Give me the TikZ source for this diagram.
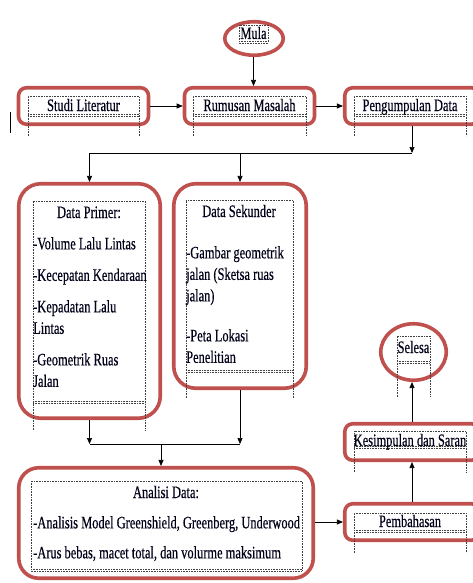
\documentclass[tikz,border=0pt]{standalone}
\usepackage{fontspec}
\setmainfont{Liberation Serif}[FakeStretch=0.71,FakeBold=0.4]
\usetikzlibrary{arrows.meta,shapes.geometric,positioning}
\definecolor{boxred}{RGB}{192,80,77}
\newcommand{\wordfont}{\fontsize{17.5}{21.5}\selectfont}

\begin{document}
\begin{tikzpicture}[
    x=1pt, y=-1pt,
    redbox/.style={draw=boxred, line width=3.6pt, rounded corners=8pt, inner sep=0pt, minimum width=134.5pt, minimum height=36.5pt},
    bigbox/.style={redbox, rounded corners=22pt},
    oval/.style={ellipse, draw=boxred, line width=3.6pt, inner sep=0pt},
    txt/.style={inner sep=0pt, font=\wordfont, text=black!90!blue, anchor=base},
    body/.style={inner sep=0pt, font=\wordfont, text=black!90!blue, align=left, anchor=north west},
    dotframe/.style={densely dotted, line width=0.6pt, black!75},
    arr/.style={-{Triangle[length=6pt,width=5pt]}, line width=0.7pt}
]
\clip (0,0) rectangle (473,583);
\fill[white] (0,0) rectangle (473,583);

% kotak-kotak
\node[oval, minimum width=58.5pt, minimum height=33.5pt] (mula) at (254,38.5) {};
\node[redbox, minimum width=130pt] (studi) at (83.5,106) {};
\node[redbox, minimum width=130pt] (rumusan) at (249.5,106) {};
\node[redbox] (peng) at (412,106) {};
\node[bigbox, minimum width=141.5pt, minimum height=234.5pt] (primer) at (89.5,301) {};
\node[bigbox, minimum width=132.5pt, minimum height=204.5pt] (sekunder) at (240,286) {};
\node[bigbox, rounded corners=20pt, minimum width=294.5pt, minimum height=110.5pt] (analisi) at (166,523) {};
\node[redbox] (pemb) at (412,522) {};
\node[redbox] (kes) at (412,442) {};
\node[oval, minimum width=65.5pt, minimum height=56.5pt] (selesa) at (413.5,352) {};

% bingkai teks
\draw[dotframe] (239,25) rectangle (268,43) (239,41) -- (268,41);
\foreach \xa/\xb in {28/139, 193/306, 354/466} {
  \draw[dotframe] (\xa,136) |- (\xb,96) -- (\xb,136);
  \draw[dotframe] (\xa,114) -- (\xb,114) (\xa,116) -- (\xb,116);
}
\draw[dotframe] (33,430) |- (145,201) -- (145,430);
\draw[dotframe] (33,401) -- (145,401) (33,403) -- (145,403);
\draw[dotframe] (186,398) |- (293,200) -- (293,398);
\draw[dotframe] (186,370) -- (293,370) (186,372) -- (293,372);
\draw[dotframe] (31,481) rectangle (302,571) (31,569) -- (302,569);
\draw[dotframe] (354,553) |- (466,513) -- (466,553);
\draw[dotframe] (354,530) -- (466,530) (354,532) -- (466,532);
\draw[dotframe] (354,472) |- (466,431) -- (466,472);
\draw[dotframe] (354,446) -- (466,446) (354,448) -- (466,448);
\draw[dotframe] (397,397) |- (430,336) -- (430,397);
\draw[dotframe] (397,361) -- (430,361) (397,363) -- (430,363);
\draw[line width=0.8pt] (10.5,112) -- (10.5,133);

% teks
\node[txt] (tmula) at (253.5,39) {Mula};
\node[txt] (tstudi) at (83.5,111) {Studi Literatur};
\node[txt] (trumusan) at (249.5,111) {Rumusan Masalah};
\node[txt] (tpeng) at (410,111) {Pengumpulan Data};
\node[txt] (tprimer) at (89,218) {Data Primer:};
\node[body] (bprimer) at (33,237) {-Volume Lalu Lintas\\[10pt]-Kecepatan Kendaraan\\[10pt]-Kepadatan Lalu\\Lintas\\[10pt]-Geometrik Ruas\\Jalan};
\node[txt] (tsekunder) at (239,217) {Data Sekunder};
\node[body] (bsekunder) at (186,246) {-Gambar geometrik\\jalan (Sketsa ruas\\jalan)\\[18.5pt]-Peta Lokasi\\Penelitian};
\node[txt] (tanalisi) at (166,498) {Analisi Data:};
\node[body] (banalisi) at (33,516) {-Analisis Model Greenshield, Greenberg, Underwood\\[8.5pt]-Arus bebas, macet total, dan volurme maksimum};
\node[txt] (tpemb) at (410,527) {Pembahasan};
\node[txt] (tkes) at (410,446) {Kesimpulan dan Saran};
\node[txt] (tselesa) at (413.5,353) {Selesa};

% panah
\coordinate (split) at (412,153);
\coordinate (merge) at (161,444);
\draw[arr] (mula.south -| tmula) -- (tmula |- rumusan.north);
\draw[arr] (studi.east) -- (rumusan.west);
\draw[arr] (rumusan.east) -- (peng.west);
\draw[arr] (split |- peng.south) -- (split);
\draw[arr] (split) -| (primer.north);
\draw[arr] (sekunder.north |- split) -- (sekunder.north);
\draw[arr] (primer.south) -- (primer.south |- merge);
\draw[arr] (sekunder.south) -- (sekunder.south |- merge);
\draw (primer.south |- merge) -- (sekunder.south |- merge);
\draw[arr] (merge) -- (merge |- analisi.north);
\draw[arr] (analisi.east |- pemb) -- (pemb.west);
\draw[arr] (pemb.north) -- (kes.south);
\draw[arr] (kes.north) -- (selesa.south -| kes);
\end{tikzpicture}
\end{document}
